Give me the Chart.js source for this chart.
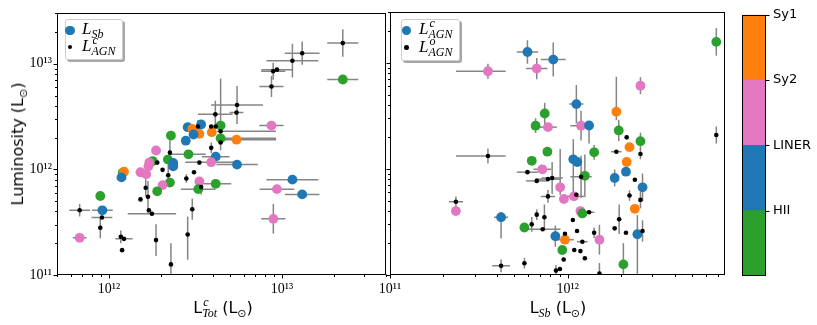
<!DOCTYPE html>
<html>
<head>
<meta charset="utf-8">
<script src="https://cdn.jsdelivr.net/npm/chart.js@4.4.0/dist/chart.umd.min.js"></script>
<style>
html, body { margin: 0; padding: 0; background: #fff; }
#wrap { position: relative; width: 817px; height: 325px; overflow: hidden; font-family: "DejaVu Sans", sans-serif; color: #000; }
canvas { position: absolute; top: 0; }
.leg { position: absolute; background: rgba(255,255,255,0.85); border: 1px solid #ccc; border-radius: 3px; box-shadow: 2px 2px 0 rgba(0,0,0,0.35); box-sizing: border-box; }
.dot { position: absolute; border-radius: 50%; }
.lab { position: absolute; font-family: "Liberation Serif", serif; font-style: italic; font-size: 17px; line-height: 17px; white-space: nowrap; }
.sub { position: relative; top: 4px; font-size: 12px; }
.ss { position: relative; top: 4px; font-size: 12px; }
.ss .up { position: absolute; left: 1px; top: -12px; }
.title { position: absolute; font-size: 16px; line-height: 16px; white-space: nowrap; transform: translate(-50%, -50%); }
.title .m { font-family: "Liberation Serif", serif; font-style: italic; }
.title .sun { position: relative; top: 4px; font-size: 11px; font-family: "DejaVu Sans", sans-serif; }
</style>
</head>
<body>
<div id="wrap">
  <canvas id="left" width="392" height="325" style="left:0px"></canvas>
  <canvas id="right" width="360" height="325" style="left:370px"></canvas>
  <canvas id="cbar" width="82" height="325" style="left:735px"></canvas>

  <div class="leg" style="left:65px;top:19px;width:58px;height:41px"></div>
  <div class="dot" style="left:65px;top:25.5px;width:9.5px;height:9.5px;background:#1f77b4"></div>
  <div class="dot" style="left:67.5px;top:44.5px;width:4.6px;height:4.6px;background:#000"></div>
  <div class="lab" style="left:82px;top:20px">L<span class="sub">Sb</span></div>
  <div class="lab" style="left:82px;top:37px">L<span class="ss"><span class="up">c</span>AGN</span></div>

  <div class="leg" style="left:401px;top:19px;width:59px;height:42px"></div>
  <div class="dot" style="left:401.5px;top:25.5px;width:9.5px;height:9.5px;background:#1f77b4"></div>
  <div class="dot" style="left:404px;top:45px;width:4.6px;height:4.6px;background:#000"></div>
  <div class="lab" style="left:419px;top:20px">L<span class="ss"><span class="up">c</span>AGN</span></div>
  <div class="lab" style="left:419px;top:38px">L<span class="ss"><span class="up">o</span>AGN</span></div>

  <div class="title" style="left:223px;top:309px">L<span class="ss"><span class="up m">c</span><span class="m">Tot</span></span> (L<span class="sun">⊙</span>)</div>
  <div class="title" style="left:558px;top:309px">L<span class="sub m">Sb</span> (L<span class="sun">⊙</span>)</div>
  <div class="title" style="left:19px;top:144px;transform:translate(-50%,-50%) rotate(-90deg)">Luminosity (L<span class="sun">⊙</span>)</div>
</div>
<script>
const UNIT = 1e12; // table values are in units of 10^12 L_sun

const CLASS_NAMES = ['HII', 'LINER', 'Sy2', 'Sy1'];
const CLASS_COLORS = { HII: '#2ca02c', LINER: '#1f77b4', Sy2: '#e377c2', Sy1: '#ff7f0e' };

// rows: [x, y, x error (dex, or [minus, plus]), y error (dex, or [minus, plus]), class]
// left panel: x = L^c_Tot
const totVsSb = [
    [22.5, 7.1, 0.09, 0, 'HII'],
    [8.7, 2.6, 0.07, 0, 'Sy2'],
    [4.42, 2.6, 0, 0, 'HII'],
    [3.41, 2.66, 0, 0, 'LINER'],
    [2.85, 2.51, 0, 0, 'LINER'],
    [3.03, 2.42, 0, 0, 'Sy1'],
    [3.33, 2.17, 0, 0, 'Sy1'],
    [3.93, 2.25, 0, 0, 'Sy1'],
    [3.08, 2.14, 0, 0, 'LINER'],
    [2.28, 2.09, 0, 0, 'HII'],
    [4.42, 1.97, [0.02, 0.32], 0, 'HII'],
    [5.46, 1.91, [0.09, 0.23], 0, 'Sy1'],
    [2.78, 1.87, 0, 0, 'LINER'],
    [4.14, 1.32, 0.08, 0, 'LINER'],
    [2.88, 1.39, 0.1, 0, 'HII'],
    [1.87, 1.51, 0, 0, 'Sy2'],
    [1.79, 1.2, 0, 0, 'HII'],
    [2.19, 1.24, 0, 0, 'HII'],
    [2.35, 1.15, 0, 0, 'LINER'],
    [2.35, 1.07, 0, 0, 'LINER'],
    [1.71, 1.16, 0, 0, 'Sy2'],
    [1.69, 1.07, 0, 0, 'Sy2'],
    [3.9, 1.17, 0.15, 0, 'Sy2'],
    [5.5, 1.11, 0.12, 0, 'LINER'],
    [1.2, 0.93, 0, 0, 'HII'],
    [1.22, 0.95, 0, 0, 'Sy1'],
    [1.18, 0.84, 0, 0, 'LINER'],
    [1.52, 0.94, 0, 0, 'Sy2'],
    [1.64, 0.9, 0, 0, 'Sy2'],
    [3.33, 0.77, 0, 0, 'Sy2'],
    [2.25, 0.75, 0, 0, 'HII'],
    [2.04, 0.71, 0, 0, 'Sy2'],
    [4.14, 0.73, 0.09, 0, 'HII'],
    [3.28, 0.65, 0.1, 0, 'HII'],
    [1.9, 0.62, 0, 0, 'HII'],
    [0.89, 0.56, 0, 0, 'HII'],
    [0.915, 0.41, 0.06, 0, 'LINER'],
    [11.5, 0.8, 0.15, 0.04, 'LINER'],
    [9.36, 0.65, 0.1, 0, 'Sy2'],
    [13.1, 0.58, 0.1, 0.04, 'LINER'],
    [8.92, 0.34, 0.07, 0.14, 'Sy2'],
    [0.676, 0.225, 0.04, 0, 'Sy2'],
];

const totVsAgnC = [
    [22.5, 15.7, 0.09, 0.13],
    [13.1, 12.6, 0.1, 0.11],
    [11.5, 10.7, 0.15, 0.16],
    [9.36, 8.8, 0.09, 0],
    [8.9, 8.5, 0.07, 0.08],
    [8.7, 6.1, 0.07, 0.1],
    [5.5, 4.07, 0.15, 0.18],
    [5.46, 3.45, 0.04, 0],
    [4.12, 3.32, 0.1, 0.13],
    [3.9, 2.55, 0, 0],
    [4.14, 2.55, 0, 0],
    [3.27, 2.55, 0, 0.06],
    [4.42, 2.3, [0.02, 0.32], [0.18, 0.5]],
    [3.9, 1.6, 0, 0.05],
    [4.42, 1.8, 0, 0],
    [2.25, 1.44, 0, 0.14],
    [1.9, 1.16, 0, 0],
    [3.33, 1.16, 0, 0],
    [2.04, 0.99, 0, 0],
    [2.2, 0.88, 0, 0.1],
    [3.1, 0.94, 0, 0],
    [2.8, 0.82, 0, 0.04],
    [1.63, 0.67, 0, 0.08],
    [3.41, 0.68, 0, 0.07],
    [1.52, 0.52, 0, 0],
    [1.68, 0.55, 0, 0.15],
    [0.676, 0.41, 0.06, 0.06],
    [0.91, 0.35, 0.06, 0],
    [1.7, 0.41, 0, 0],
    [1.77, 0.38, 0.14, 0],
    [3.03, 0.42, 0, 0.1],
    [0.89, 0.28, 0, 0.1],
    [1.17, 0.23, 0, 0.06],
    [1.22, 0.22, 0.05, 0],
    [1.19, 0.172, 0, 0],
    [1.87, 0.214, 0, 0.15],
    [2.85, 0.242, 0, [0.24, 0.17]],
    [2.28, 0.126, 0, 0.2],
];

// right panel: x = L_Sb
const sbVsAgnC = [
    [0.594, 12.6, 0.06, 0.11, 'LINER'],
    [0.83, 10.7, 0.07, 0.16, 'LINER'],
    [0.356, 8.3, [0.18, 0.1], 0.07, 'Sy2'],
    [0.67, 8.8, 0.06, 0.1, 'Sy2'],
    [6.87, 15.7, 0, 0.13, 'HII'],
    [2.57, 6.07, 0, 0.08, 'Sy2'],
    [1.12, 4.07, 0.04, 0.18, 'LINER'],
    [1.88, 3.45, 0, [0.08, 0.33], 'Sy1'],
    [0.743, 3.32, 0, 0.1, 'HII'],
    [0.66, 2.55, 0, 0.07, 'HII'],
    [0.775, 2.47, 0.05, 0, 'Sy2'],
    [1.19, 2.55, 0.06, 0.14, 'Sy2'],
    [1.32, 2.56, 0, [0.17, 0], 'LINER'],
    [1.94, 2.3, 0, 0.1, 'HII'],
    [2.57, 1.82, 0, 0.08, 'HII'],
    [2.23, 1.6, 0, 0, 'Sy1'],
    [1.41, 1.43, 0, 0.07, 'HII'],
    [0.769, 1.45, 0, 0, 'HII'],
    [0.628, 1.19, 0, 0, 'HII'],
    [2.15, 1.16, 0, 0, 'Sy1'],
    [1.076, 1.23, 0, [0.32, 0.19], 'LINER'],
    [1.133, 1.16, 0, 0, 'LINER'],
    [0.72, 0.99, 0.05, 0, 'Sy2'],
    [1.25, 0.86, 0, 0.2, 'HII'],
    [1.84, 0.82, 0, 0.08, 'LINER'],
    [2.13, 0.94, 0, 0, 'LINER'],
    [2.64, 0.67, 0, 0.13, 'LINER'],
    [0.908, 0.67, 0, [0.07, 0.36], 'Sy2'],
    [0.953, 0.52, 0, 0, 'Sy2'],
    [1.085, 0.55, 0.06, 0, 'Sy2'],
    [0.235, 0.4, 0, 0, 'Sy2'],
    [0.422, 0.35, 0.04, [0.2, 0.05], 'LINER'],
    [1.18, 0.4, 0, 0, 'Sy2'],
    [1.21, 0.38, 0, 0, 'HII'],
    [2.39, 0.42, 0, 0, 'Sy1'],
    [0.571, 0.28, 0, 0, 'HII'],
    [0.853, 0.232, 0, 0.1, 'LINER'],
    [0.966, 0.215, 0.05, 0, 'Sy1'],
    [1.51, 0.215, 0, 0.14, 'Sy2'],
    [0.933, 0.172, 0, 0, 'HII'],
    [2.47, 0.242, 0, [0.45, 0.18], 'LINER'],
    [2.06, 0.126, 0, 0.2, 'HII'],
];

const sbVsAgnO = [
    [2.15, 1.98, 0, 0],
    [6.87, 2.08, 0, 0.08],
    [1.88, 1.45, 0.03, 0],
    [2.57, 1.38, 0, 0.05],
    [0.356, 1.32, [0.18, 0.1], 0.07],
    [0.594, 0.93, 0.06, 0],
    [0.67, 0.77, 0.06, 0],
    [0.775, 0.8, 0.07, 0],
    [0.818, 0.82, 0.06, 0.15],
    [1.19, 0.84, 0.06, 0.2],
    [2.39, 0.79, 0, 0],
    [0.775, 0.55, 0.04, 0.06],
    [1.12, 0.57, 0, 0],
    [2.23, 0.56, 0, 0.05],
    [2.57, 0.51, 0, 0.08],
    [0.235, 0.49, 0.04, 0.05],
    [1.32, 0.39, 0.03, 0],
    [0.67, 0.37, 0, 0.05],
    [0.628, 0.3, 0, 0.07],
    [0.74, 0.35, 0, 0.12],
    [0.724, 0.27, 0.1, 0],
    [1.07, 0.33, 0, 0],
    [1.13, 0.26, 0, 0],
    [1.41, 0.25, 0, 0.05],
    [1.95, 0.335, 0, 0.14],
    [1.84, 0.275, 0, 0],
    [2.13, 0.25, 0, 0],
    [2.64, 0.26, 0, 0.1],
    [0.966, 0.245, 0, 0],
    [1.21, 0.206, 0.03, 0],
    [1.09, 0.172, 0, 0],
    [1.18, 0.168, 0, 0],
    [1.25, 0.144, 0, 0],
    [0.95, 0.14, 0, 0],
    [0.422, 0.122, 0.05, 0.06],
    [0.571, 0.129, 0, 0.05],
    [0.905, 0.114, 0, 0],
    [0.86, 0.11, 0, 0.05],
    [1.51, 0.103, 0, 0.1],
];

const leftXRange = [5e11, 4e13];
const rightXRange = [1e11, 7.7e12];
const yRange = [1e11, 3e13];
const cbarTicks = [1, 2, 3, 4]; // boundaries, labelled with CLASS_NAMES

const SUP = { '0': '⁰', '1': '¹', '2': '²', '3': '³', '4': '⁴', '5': '⁵', '6': '⁶', '7': '⁷', '8': '⁸', '9': '⁹' };

function isDecade(v) {
    const e = Math.log10(v);
    return Math.abs(e - Math.round(e)) < 1e-6;
}

function decadeLabel(v) {
    if (!isDecade(v)) return '';
    return '10' + String(Math.round(Math.log10(v))).split('').map(c => SUP[c]).join('');
}

// 1..9 x 10^n tick positions inside [min, max]
function logTicks(min, max) {
    const out = [];
    for (let e = Math.floor(Math.log10(min)); e <= Math.ceil(Math.log10(max)); e++) {
        for (let m = 1; m < 10; m++) {
            const v = m * Math.pow(10, e);
            if (v >= min * 0.9999 && v <= max * 1.0001) out.push(v);
        }
    }
    return out;
}

function pair(e) {
    return Array.isArray(e) ? e : [e, e];
}

// gray error bars behind the markers
const errorBars = {
    id: 'errorBars',
    beforeDatasetsDraw(chart) {
        const { ctx, chartArea: a, scales: { x, y } } = chart;
        ctx.save();
        ctx.beginPath();
        ctx.rect(a.left, a.top, a.width, a.height);
        ctx.clip();
        ctx.strokeStyle = '#858585';
        ctx.lineWidth = 1.5;
        chart.data.datasets.forEach(ds => {
            (ds.rows || []).forEach(r => {
                const xv = r[0] * UNIT, yv = r[1] * UNIT;
                const [xm, xp] = pair(r[2]);
                const [ym, yp] = pair(r[3]);
                const px = x.getPixelForValue(xv), py = y.getPixelForValue(yv);
                ctx.beginPath();
                if (xm || xp) {
                    ctx.moveTo(x.getPixelForValue(xv / Math.pow(10, xm)), py);
                    ctx.lineTo(x.getPixelForValue(xv * Math.pow(10, xp)), py);
                }
                if (ym || yp) {
                    ctx.moveTo(px, y.getPixelForValue(yv / Math.pow(10, ym)));
                    ctx.lineTo(px, y.getPixelForValue(yv * Math.pow(10, yp)));
                }
                ctx.stroke();
            });
        });
        ctx.restore();
    }
};

// black frame and outward tick marks (major longer than minor)
const axesFrame = {
    id: 'axesFrame',
    afterDraw(chart, args, opts) {
        const { ctx, chartArea: a, scales } = chart;
        const L = Math.round(a.left) + 0.5, R = Math.round(a.right) - 0.5;
        const T = Math.round(a.top) + 0.5, B = Math.round(a.bottom) - 0.5;
        ctx.save();
        ctx.strokeStyle = '#000';
        ctx.lineWidth = 1;
        ctx.strokeRect(L, T, R - L, B - T);
        ctx.beginPath();
        if (opts.bottom) {
            scales.x.ticks.forEach(t => {
                const p = Math.round(scales.x.getPixelForValue(t.value)) + 0.5;
                ctx.moveTo(p, B);
                ctx.lineTo(p, B + (isDecade(t.value) ? 4 : 2.5));
            });
        }
        if (opts.left) {
            scales.y.ticks.forEach(t => {
                const p = Math.round(scales.y.getPixelForValue(t.value)) + 0.5;
                ctx.moveTo(L, p);
                ctx.lineTo(L - (isDecade(t.value) ? 4 : 2.5), p);
            });
        }
        if (opts.right) {
            scales.y.ticks.forEach(t => {
                const p = Math.round(scales.y.getPixelForValue(t.value)) + 0.5;
                ctx.moveTo(R, p);
                ctx.lineTo(R + 4, p);
            });
        }
        ctx.stroke();
        ctx.restore();
    }
};

const tickFont = { family: 'Liberation Serif', size: 14 };

function makePanel(id, colored, black, xRange, showYLabels, yAxisWidth, padRight) {
    const toPts = rows => rows.map(r => ({ x: r[0] * UNIT, y: r[1] * UNIT }));
    return new Chart(document.getElementById(id), {
        type: 'scatter',
        data: {
            datasets: [
                {
                    data: toPts(colored),
                    rows: colored,
                    backgroundColor: colored.map(r => CLASS_COLORS[r[4]]),
                    pointRadius: 4.9,
                    pointBorderWidth: 0,
                    order: 1,
                },
                {
                    data: toPts(black),
                    rows: black,
                    backgroundColor: '#000',
                    pointRadius: 2.3,
                    pointBorderWidth: 0,
                    order: 0,
                },
            ],
        },
        options: {
            responsive: false,
            animation: false,
            events: [],
            layout: { padding: { top: 12, right: padRight, left: 0, bottom: 0 } },
            plugins: {
                legend: { display: false },
                tooltip: { enabled: false },
                axesFrame: { bottom: true, left: true },
            },
            scales: {
                x: {
                    type: 'logarithmic',
                    min: xRange[0],
                    max: xRange[1],
                    afterBuildTicks: s => { s.ticks = logTicks(xRange[0], xRange[1]).map(v => ({ value: v })); },
                    afterFit: s => { s.height = 50; },
                    grid: { display: false, drawTicks: false },
                    border: { display: false },
                    ticks: {
                        autoSkip: false, maxRotation: 0, padding: 6, color: '#000', font: tickFont,
                        callback: v => decadeLabel(v),
                    },
                },
                y: {
                    type: 'logarithmic',
                    min: yRange[0],
                    max: yRange[1],
                    afterBuildTicks: s => { s.ticks = logTicks(yRange[0], yRange[1]).map(v => ({ value: v })); },
                    afterFit: s => { s.width = yAxisWidth; },
                    grid: { display: false, drawTicks: false },
                    border: { display: false },
                    ticks: {
                        display: showYLabels, autoSkip: false, padding: 5, color: '#000', font: tickFont,
                        callback: v => decadeLabel(v),
                    },
                },
            },
        },
        plugins: [errorBars, axesFrame],
    });
}

makePanel('left', totVsSb, totVsAgnC, leftXRange, true, 57, 2);
makePanel('right', sbVsAgnC, sbVsAgnO, rightXRange, false, 20, 4);

// colour bar for the spectral class
new Chart(document.getElementById('cbar'), {
    type: 'bar',
    data: {
        labels: [''],
        datasets: CLASS_NAMES.map(c => ({
            data: [1],
            backgroundColor: CLASS_COLORS[c],
            borderWidth: 0,
            barPercentage: 1,
            categoryPercentage: 1,
        })),
    },
    options: {
        responsive: false,
        animation: false,
        events: [],
        layout: { padding: { top: 11, left: 7, right: 0, bottom: 49 } },
        plugins: {
            legend: { display: false },
            tooltip: { enabled: false },
            axesFrame: { right: true },
        },
        scales: {
            x: { display: false, stacked: true },
            y: {
                stacked: true,
                position: 'right',
                min: 0,
                max: 4,
                afterBuildTicks: s => { s.ticks = cbarTicks.map(v => ({ value: v })); },
                afterFit: s => { s.width = 51; },
                grid: { display: false, drawTicks: false },
                border: { display: false },
                ticks: {
                    padding: 7, color: '#000', font: { family: 'DejaVu Sans', size: 13 },
                    callback: v => CLASS_NAMES[v - 1],
                },
            },
        },
    },
    plugins: [axesFrame],
});
</script>
</body>
</html>
